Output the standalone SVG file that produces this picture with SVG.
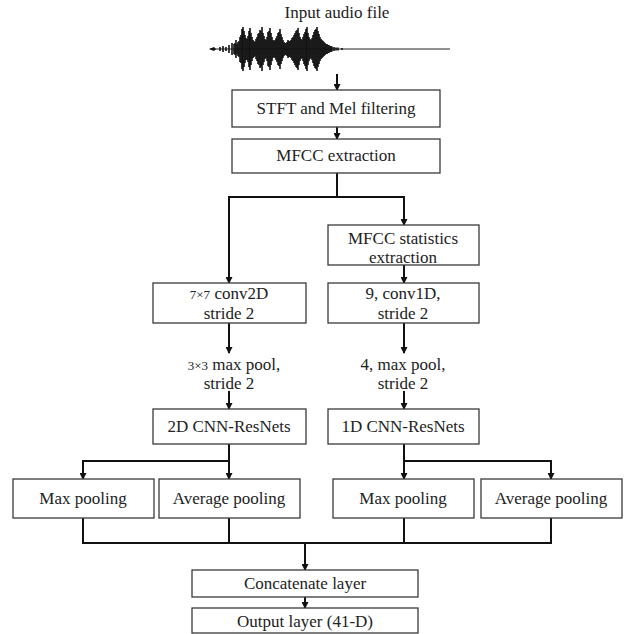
<svg xmlns="http://www.w3.org/2000/svg" width="624" height="634" viewBox="0 0 624 634">
<style>
  .box { fill: #ffffff; stroke: #3a3a3a; stroke-width: 1.3; }
  .t { font-family: "Liberation Serif", "Times New Roman", serif; font-size: 17px; fill: #222; text-anchor: middle; }
  .s { font-size: 13px; }
  .c { fill: none; stroke: #111; stroke-width: 2; }
  .ca { fill: none; stroke: #111; stroke-width: 2; marker-end: url(#ah); }
  .wave { fill: none; stroke: #111; stroke-width: 1.6; }
</style>
<defs>
  <marker id="ah" markerWidth="7" markerHeight="7" refX="6" refY="3.5" orient="auto" markerUnits="userSpaceOnUse">
    <path d="M0,0 L7,3.5 L0,7 z" fill="#111"/>
  </marker>
</defs>
<rect width="624" height="634" fill="#ffffff"/>

<g id="input">
  <text class="t" x="337" y="18">Input audio file</text>
  <path fill="none" stroke="#222" stroke-width="1" d="M210,49 H450"/>
  <path d="M209,49 L214,47 L216,49 L214,51 Z" fill="#111"/>
  <path class="wave" d="M220,47V51 M223,46V52 M226,47V51 M229,45V53 M232,43V55 M234,44V54 M236,40V58 M238,42V56 M240,37V62 M242,29V69 M243,27V71 M245,35V63 M247,39V60 M249,31V67 M250,28V70 M252,37V61 M254,41V57 M256,39V59 M258,34V64 M260,30V68 M262,27V71 M264,36V62 M266,40V58 M268,32V66 M270,28V70 M272,37V61 M274,41V57 M276,38V60 M278,33V65 M280,29V69 M282,37V61 M284,42V56 M286,43V55 M288,40V58 M290,41V57 M292,38V60 M294,35V63 M296,31V67 M298,28V70 M300,37V61 M302,40V58 M304,34V64 M306,29V69 M307,27V71 M309,37V61 M311,40V58 M313,35V63 M315,30V68 M317,27V71 M319,34V64 M321,39V59 M323,41V57 M325,43V55 M327,44V54 M329,45V53 M331,46V52 M334,47V51 M338,47.5V50.5 M342,48V50"/>
  <path class="wave" stroke-width="1.2" d="M235,43V55 M237,44V54 M239,41V57 M241,35V63 M244,31V67 M246,38V60 M248,36V62 M251,33V65 M253,40V58 M255,42V56 M257,37V61 M259,33V65 M261,31V67 M263,33V65 M265,39V59 M267,37V61 M269,31V67 M271,33V65 M273,40V58 M275,40V58 M277,36V62 M279,32V66 M281,34V64 M283,40V58 M285,43V55 M287,42V56 M289,41V57 M291,40V58 M293,37V61 M295,33V65 M297,30V68 M299,33V65 M301,39V59 M303,37V61 M305,32V66 M308,33V65 M310,39V59 M312,38V60 M314,32V66 M316,29V69 M318,31V67 M320,37V61 M322,40V58 M324,42V56 M326,44V54 M328,45V53 M330,46V52 M332,46.5V51.5 M336,47.5V50.5"/>
</g>

<g id="connectors">
  <path class="ca" d="M337,74 V90"/>
  <path class="ca" d="M337,127 V139"/>
  <path class="ca" d="M337,173 V197 H229 V283"/>
  <path class="ca" d="M337,197 H404 V225"/>
  <path class="ca" d="M404,265 V283"/>
  <path class="ca" d="M229,323 V353"/>
  <path class="ca" d="M404,323 V353"/>
  <path class="ca" d="M229,391 V409"/>
  <path class="ca" d="M404,391 V409"/>
  <path class="ca" d="M229,444 V461 H83 V479"/>
  <path class="ca" d="M229,461 V479"/>
  <path class="ca" d="M404,444 V479"/>
  <path class="ca" d="M404,461 H551 V479"/>
  <path class="c" d="M83,518 V543 M229,518 V543 M404,518 V543 M551,518 V543 M82,543 H552"/>
  <path class="ca" d="M305,543 V570"/>
  <path class="ca" d="M305,597 V608"/>
</g>

<g id="stft">
  <rect class="box" x="232" y="90" width="208" height="37"/>
  <text class="t" x="336" y="114">STFT and Mel filtering</text>
</g>
<g id="mfcc">
  <rect class="box" x="232" y="139" width="208" height="34"/>
  <text class="t" x="336" y="161">MFCC extraction</text>
</g>
<g id="mfccstats">
  <rect class="box" x="328" y="225" width="151" height="40"/>
  <text class="t" x="403" y="244">MFCC statistics</text>
  <text class="t" x="403" y="263">extraction</text>
</g>
<g id="conv2d">
  <rect class="box" x="153" y="283" width="153" height="40"/>
  <text class="t" x="229" y="299"><tspan class="s">7×7</tspan> conv2D</text>
  <text class="t" x="229" y="319">stride 2</text>
</g>
<g id="conv1d">
  <rect class="box" x="328" y="283" width="151" height="40"/>
  <text class="t" x="403" y="299">9, conv1D,</text>
  <text class="t" x="403" y="319">stride 2</text>
</g>
<g id="maxpool2d">
  <text class="t" x="234" y="370"><tspan class="s">3×3</tspan> max pool,</text>
  <text class="t" x="229" y="389">stride 2</text>
</g>
<g id="maxpool1d">
  <text class="t" x="403" y="370">4, max pool,</text>
  <text class="t" x="403" y="389">stride 2</text>
</g>
<g id="resnet2d">
  <rect class="box" x="153" y="409" width="153" height="35"/>
  <text class="t" x="229" y="432">2D CNN-ResNets</text>
</g>
<g id="resnet1d">
  <rect class="box" x="328" y="409" width="151" height="35"/>
  <text class="t" x="403" y="432">1D CNN-ResNets</text>
</g>
<g id="maxpoolL">
  <rect class="box" x="13" y="479" width="141" height="39"/>
  <text class="t" x="83" y="504">Max pooling</text>
</g>
<g id="avgpoolL">
  <rect class="box" x="159" y="479" width="141" height="39"/>
  <text class="t" x="229" y="504">Average pooling</text>
</g>
<g id="maxpoolR">
  <rect class="box" x="333" y="479" width="141" height="39"/>
  <text class="t" x="403" y="504">Max pooling</text>
</g>
<g id="avgpoolR">
  <rect class="box" x="481" y="479" width="141" height="39"/>
  <text class="t" x="551" y="504">Average pooling</text>
</g>
<g id="concat">
  <rect class="box" x="192" y="570" width="226" height="27"/>
  <text class="t" x="305" y="589">Concatenate layer</text>
</g>
<g id="output">
  <rect class="box" x="192" y="608" width="226" height="25"/>
  <text class="t" x="305" y="627">Output layer (41-D)</text>
</g>
</svg>
